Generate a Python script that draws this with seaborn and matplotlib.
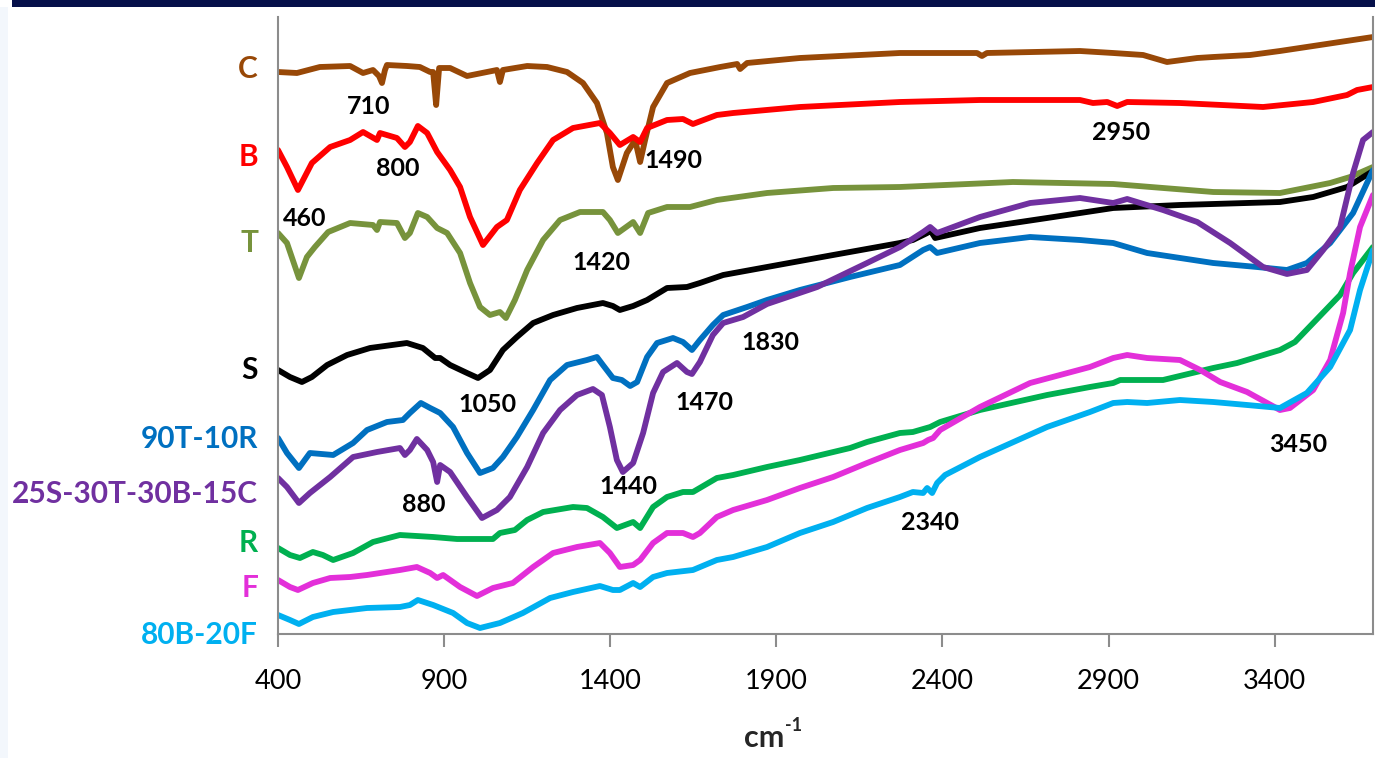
import numpy as np
import pandas as pd
import matplotlib
matplotlib.use("Agg")
import matplotlib.pyplot as plt
from matplotlib.patches import Rectangle
import seaborn as sns

# ─── data: wavenumber (cm-1) and offset transmittance ───
c_wn = [400, 457, 526, 617, 656, 686, 704, 713, 722, 728, 788, 827, 858, 867, 876, 885,
        918, 969, 1059, 1068, 1077, 1150, 1210, 1270, 1318, 1360, 1390, 1408, 1423, 1450,
        1475, 1490, 1505, 1529, 1571, 1640, 1731, 1782, 1791, 1812, 1971, 2272, 2504, 2519,
        2534, 2814, 2914, 3004, 3076, 3167, 3215, 3326, 3416, 3696]
c_val = [562, 561, 567, 568, 561, 564, 558, 551, 564, 569, 568, 567, 562, 562, 529, 566,
         566, 558, 564, 552, 564, 568, 567, 562, 551, 531, 501, 467, 454, 481,
         494, 472, 494, 527, 551, 561, 567, 570, 565, 571, 576, 581, 581, 578,
         581, 583, 581, 579, 572, 576, 577, 579, 583, 597]

b_wn = [400, 427, 460, 502, 557, 617, 656, 698, 707, 758, 782, 797, 821, 849, 879, 918,
        948, 978, 1017, 1059, 1089, 1128, 1180, 1228, 1288, 1369, 1399, 1429, 1469, 1490,
        1511, 1571, 1619, 1649, 1721, 1770, 1971, 2272, 2513, 2814, 2853, 2896, 2926, 2956,
        3115, 3365, 3516, 3618, 3648, 3696]
b_val = [484, 467, 444, 471, 487, 494, 502, 494, 501, 496, 487, 492, 508, 501, 482, 464,
         447, 417, 389, 407, 414, 444, 471, 494, 506, 511, 501, 489, 497, 492,
         506, 514, 515, 510, 519, 521, 527, 532, 534, 534, 531, 532, 528, 532,
         531, 527, 532, 539, 544, 547]

t_wn = [400, 427, 463, 487, 511, 551, 617, 686, 698, 707, 758, 782, 797, 821, 849, 879,
        909, 948, 978, 1008, 1038, 1068, 1086, 1113, 1150, 1198, 1249, 1309, 1378, 1399,
        1423, 1469, 1490, 1514, 1571, 1640, 1721, 1872, 2071, 2272, 2612, 2914, 3215, 3416,
        3567, 3627, 3696]
t_val = [401, 391, 356, 377, 387, 402, 411, 409, 404, 412, 411, 396, 401, 421, 417, 406,
         401, 381, 351, 327, 319, 322, 316, 334, 364, 394, 414, 422, 422, 414,
         401, 412, 401, 421, 427, 427, 434, 441, 446, 447, 452, 450, 442, 441,
         451, 457, 467]

s_wn = [400, 436, 472, 502, 548, 608, 677, 788, 836, 873, 888, 918, 969, 1002, 1038, 1077,
        1119, 1168, 1228, 1300, 1378, 1408, 1429, 1469, 1511, 1571, 1631, 1670, 1740, 1872,
        2071, 2272, 2311, 2354, 2363, 2378, 2513, 2715, 2914, 3115, 3416, 3516, 3618, 3696]
s_val = [264, 257, 252, 257, 269, 279, 286, 291, 286, 276, 276, 269, 261, 256, 264, 284,
         297, 311, 319, 326, 331, 328, 324, 328, 334, 346, 347, 351, 359, 367,
         379, 391, 394, 401, 404, 396, 406, 416, 426, 429, 432, 437, 447, 463]

t90_wn = [400, 427, 463, 496, 566, 626, 668, 728, 776, 797, 830, 858, 888, 927, 969, 1008,
          1047, 1077, 1119, 1168, 1219, 1270, 1330, 1360, 1378, 1408, 1435, 1460, 1481, 1511,
          1541, 1589, 1619, 1646, 1670, 1709, 1740, 1812, 1872, 1971, 2122, 2272, 2342, 2363,
          2384, 2513, 2664, 2814, 2914, 3016, 3215, 3347, 3437, 3497, 3567, 3636, 3696]
t90_val = [196, 181, 166, 181, 179, 191, 204, 212, 214, 221, 231, 226, 221, 207, 181, 161,
           166, 177, 197, 224, 254, 269, 274, 277, 269, 256, 254, 248, 252, 277,
           291, 296, 292, 284, 294, 309, 319, 327, 334, 344, 357, 369, 384, 387,
           381, 391, 397, 394, 391, 381, 371, 367, 364, 371, 391, 421, 464]

mix_wn = [400, 427, 463, 496, 557, 626, 698, 767, 782, 797, 818, 849, 867, 879, 888, 918,
          969, 1014, 1059, 1098, 1150, 1198, 1249, 1300, 1348, 1375, 1399, 1420, 1438, 1469,
          1499, 1529, 1559, 1601, 1631, 1646, 1670, 1709, 1740, 1800, 1872, 2023, 2173, 2272,
          2342, 2363, 2384, 2513, 2664, 2814, 2914, 2956, 3064, 3167, 3266, 3365, 3437, 3497,
          3546, 3597, 3636, 3666, 3696]
mix_val = [156, 147, 131, 141, 157, 177, 182, 186, 179, 184, 195, 184, 172, 152, 169, 162,
           137, 116, 124, 137, 167, 201, 224, 239, 245, 239, 207, 174, 162, 171,
           201, 241, 262, 271, 262, 260, 272, 299, 311, 317, 330, 347, 371, 387,
           402, 407, 401, 417, 431, 436, 431, 435, 424, 412, 391, 367, 360, 364,
           384, 407, 461, 494, 502]

r_wn = [400, 436, 466, 505, 535, 566, 626, 686, 767, 867, 939, 1047, 1068, 1113, 1150, 1198,
        1288, 1330, 1378, 1420, 1469, 1490, 1529, 1571, 1619, 1649, 1721, 1770, 1872, 1971,
        2122, 2173, 2272, 2311, 2363, 2393, 2513, 2715, 2844, 2914, 2935, 3064, 3215, 3287,
        3416, 3461, 3516, 3597, 3636, 3696]
r_val = [86, 79, 76, 82, 79, 74, 81, 92, 99, 97, 95, 95, 101, 104, 114, 122,
         127, 126, 117, 106, 112, 106, 127, 137, 142, 142, 156, 159, 167, 174,
         186, 192, 201, 202, 207, 212, 224, 239, 247, 251, 254, 254, 266, 271,
         284, 292, 311, 339, 361, 387]

f_wn = [400, 436, 460, 505, 557, 617, 668, 767, 818, 858, 879, 897, 948, 999, 1047, 1107,
        1168, 1228, 1300, 1369, 1399, 1429, 1469, 1490, 1529, 1571, 1619, 1649, 1670, 1721,
        1770, 1872, 1971, 2071, 2173, 2272, 2342, 2357, 2372, 2393, 2513, 2664, 2844, 2914,
        2956, 3016, 3115, 3176, 3236, 3317, 3416, 3446, 3516, 3567, 3606, 3627, 3657, 3696]
f_val = [54, 47, 44, 51, 56, 57, 59, 64, 67, 61, 56, 59, 47, 38, 46, 51,
         67, 81, 87, 91, 81, 67, 69, 74, 91, 101, 101, 97, 101, 117,
         124, 134, 146, 157, 171, 184, 191, 194, 196, 204, 227, 251, 267, 276,
         279, 276, 274, 264, 252, 242, 224, 226, 244, 274, 321, 361, 407, 439]

bf_wn = [400, 436, 463, 505, 566, 668, 767, 797, 821, 867, 927, 969, 1008, 1068, 1137, 1219,
         1288, 1369, 1408, 1429, 1469, 1490, 1529, 1571, 1649, 1721, 1770, 1872, 1971, 2071,
         2173, 2272, 2311, 2342, 2354, 2369, 2384, 2408, 2513, 2715, 2844, 2914, 2956, 3016,
         3115, 3215, 3317, 3416, 3497, 3567, 3627, 3657, 3696]
bf_val = [19, 14, 10, 17, 22, 26, 27, 29, 34, 29, 21, 11, 6, 11, 21, 36,
          42, 48, 44, 44, 51, 47, 57, 61, 64, 74, 77, 87, 101, 112,
          126, 137, 142, 141, 146, 141, 151, 159, 177, 207, 222, 231, 232, 231,
          234, 232, 229, 226, 241, 267, 304, 344, 384]

samples = ["C", "B", "T", "S", "90T-10R", "25S-30T-30B-15C", "R", "F", "80B-20F"]
series = [(c_wn, c_val), (b_wn, b_val), (t_wn, t_val), (s_wn, s_val), (t90_wn, t90_val),
          (mix_wn, mix_val), (r_wn, r_val), (f_wn, f_val), (bf_wn, bf_val)]

peak_labels = ["710", "800", "460", "1490", "1420", "2950", "1830", "1050", "1470",
               "1440", "880", "2340", "3450"]
x_ticks = [400, 900, 1400, 1900, 2400, 2900, 3400]

# ─── styles & layout ───
colors = ["#984807", "#FF0000", "#77933C", "#000000", "#0070C0",
          "#7030A0", "#00B050", "#E32FD9", "#00B0F0"]
palette = dict(zip(samples, colors))
name_y = [565, 477, 391, 264, 195, 140, 91, 46, -1]
peak_xy = [(674, 528), (761, 466), (481, 415), (1589, 474), (1375, 372), (2938, 502),
           (1881, 292), (1032, 229), (1685, 231), (1454, 147), (839, 129), (2363, 111),
           (3470, 189)]

df = pd.concat(
    [pd.DataFrame({"wn": w, "val": v, "sample": s}) for s, (w, v) in zip(samples, series)],
    ignore_index=True,
)

sns.set_theme(style="white")
plt.rcParams["font.family"] = ["Lato", "DejaVu Sans"]

W, H = 1375, 758
fig = plt.figure(figsize=(W / 100, H / 100), dpi=100)
ax = fig.add_axes([278 / W, 1 - 634 / H, (1373 - 278) / W, (634 - 17) / H])

sns.lineplot(data=df, x="wn", y="val", hue="sample", palette=palette, hue_order=samples,
             estimator=None, sort=False, lw=4.2, legend=False, ax=ax)

ax.set_xlim(400, 3696)
ax.set_ylim(0, 617)
ax.set_xticks(x_ticks)
ax.set_xticklabels([str(t) for t in x_ticks])
ax.set_yticks([])
ax.set_ylabel("")
ax.tick_params(axis="x", direction="out", length=9, width=1.5, color="#8c8c8c",
               labelsize=19.5, pad=16, bottom=True, labelcolor="black")
for side in ["left", "bottom", "right"]:
    ax.spines[side].set_color("#8c8c8c")
    ax.spines[side].set_linewidth(1.5)
ax.spines["top"].set_visible(False)

# x label "cm" with a bold "-1" superscript, as two texts
ax.set_xlabel("")
ax.text(0.462, -0.183, "cm", transform=ax.transAxes, fontsize=22, fontweight="bold",
        ha="right", va="baseline", clip_on=False)
ax.text(0.463, -0.158, "-1", transform=ax.transAxes, fontsize=13, fontweight="bold",
        ha="left", va="baseline", clip_on=False)

for s, y in zip(samples, name_y):
    ax.text(340, y, s, color=palette[s], fontsize=21.5, fontweight="bold",
            ha="right", va="center", clip_on=False)

for lab, (x, y) in zip(peak_labels, peak_xy):
    ax.text(x, y, lab, color="black", fontsize=18, fontweight="bold",
            ha="center", va="center")

# slide decoration: navy header strip and pale left margin
fig.add_artist(Rectangle((12 / W, 1 - 7 / H), 1, 7 / H, transform=fig.transFigure,
                         color="#06104A", lw=0))
fig.add_artist(Rectangle((0, 0), 8 / W, 1 - 7 / H, transform=fig.transFigure,
                         color="#F3F7FC", lw=0))

fig.savefig("out.png", dpi=100)
